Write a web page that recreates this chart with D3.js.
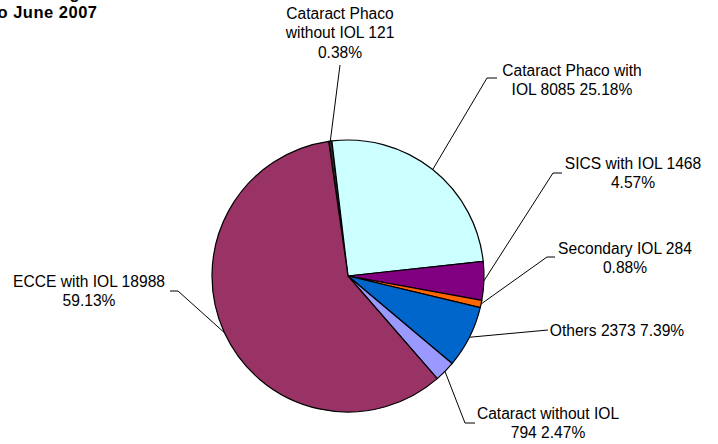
<!DOCTYPE html>
<html><head><meta charset="utf-8">
<script src="https://cdn.jsdelivr.net/npm/d3@7/dist/d3.min.js"></script>
<style>html,body{margin:0;padding:0;background:#fff;overflow:hidden}</style>
</head><body>
<svg id="chart" width="718" height="444"></svg>
<script>
// ---- data ----
const categories = ["Cataract Phaco without IOL", "Cataract Phaco with IOL", "SICS with IOL", "Secondary IOL", "Others", "Cataract without IOL", "ECCE with IOL"];
const values = [121, 8085, 1468, 284, 2373, 794, 18988];
const labelLines = [
  ["Cataract Phaco", "without IOL 121", "0.38%"],
  ["Cataract Phaco with", "IOL 8085 25.18%"],
  ["SICS with IOL 1468", "4.57%"],
  ["Secondary IOL 284", "0.88%"],
  ["Others 2373 7.39%"],
  ["Cataract without IOL", "794 2.47%"],
  ["ECCE with IOL 18988", "59.13%"]
];
const titleLines = ["Cataract Surgeries Undertaken during", "April 2004 to June 2007"];

// ---- layout / style ----
const colors = ["#2b2b2b", "#CCFFFF", "#800080", "#FF6600", "#0066CC", "#9999FF", "#993366"];
const cx = 348, cy = 276, r = 136;
const startDeg = -8.16;
// label layout: text center x, first baseline y, leader elbow points (from label side)
const labelLayout = [
  {x: 340, y: 18.5, pts: [[340, 65]]},
  {x: 572, y: 75.5, pts: [[497, 78], [487, 78]]},
  {x: 633, y: 168.5, pts: [[562, 173], [553, 173]]},
  {x: 625, y: 253.5, pts: [[555, 257], [547, 257]]},
  {x: 617, y: 335.5, pts: [[548, 330]]},
  {x: 548, y: 418.5, pts: [[475, 423], [465, 423]]},
  {x: 89, y: 286.5, pts: [[170, 291], [178, 291]]}
];
const lineH = 19.5;
const font = "Liberation Sans, Arial, sans-serif";

const svg = d3.select("#chart");
const data = categories.map((c, i) => ({name: c, value: values[i], i}));
const a0 = startDeg * Math.PI / 180;
const pie = d3.pie().sort(null).value(d => d.value).startAngle(a0).endAngle(a0 + 2 * Math.PI);
const arc = d3.arc().innerRadius(0).outerRadius(r);
const arcs = pie(data);

const g = svg.append("g").attr("transform", `translate(${cx},${cy})`);
g.selectAll("path").data(arcs).join("path")
  .attr("d", arc)
  .attr("fill", d => colors[d.data.i])
  .attr("stroke", "#000")
  .attr("stroke-width", 1.2)
  .attr("stroke-linejoin", "round");

// leaders
arcs.forEach(d => {
  const m = (d.startAngle + d.endAngle) / 2;
  const ex = cx + r * Math.sin(m), ey = cy - r * Math.cos(m);
  const L = labelLayout[d.data.i];
  const pts = L.pts.concat([[ex, ey]]);
  svg.append("path")
    .attr("d", d3.line()(pts))
    .attr("fill", "none")
    .attr("stroke", "#000")
    .attr("stroke-width", 1);
});

// labels
labelLines.forEach((lines, i) => {
  const L = labelLayout[i];
  const t = svg.append("text")
    .attr("font-family", font)
    .attr("font-size", "15.6px")
    .attr("fill", "#000")
    .attr("text-anchor", "middle");
  lines.forEach((s, k) => {
    t.append("tspan").attr("x", L.x).attr("y", L.y + k * lineH).text(s);
  });
});

// title (partially cut off at top-left, as in the reference)
const tt = svg.append("text")
  .attr("font-family", font)
  .attr("font-size", "16.5px")
  .attr("font-weight", "bold")
  .attr("letter-spacing", "0.5px")
  .attr("text-anchor", "end");
tt.append("tspan").attr("x", 80).attr("y", -1).text(titleLines[0]);
tt.append("tspan").attr("x", 97.5).attr("y", 18).text(titleLines[1]);
</script>
</body></html>
